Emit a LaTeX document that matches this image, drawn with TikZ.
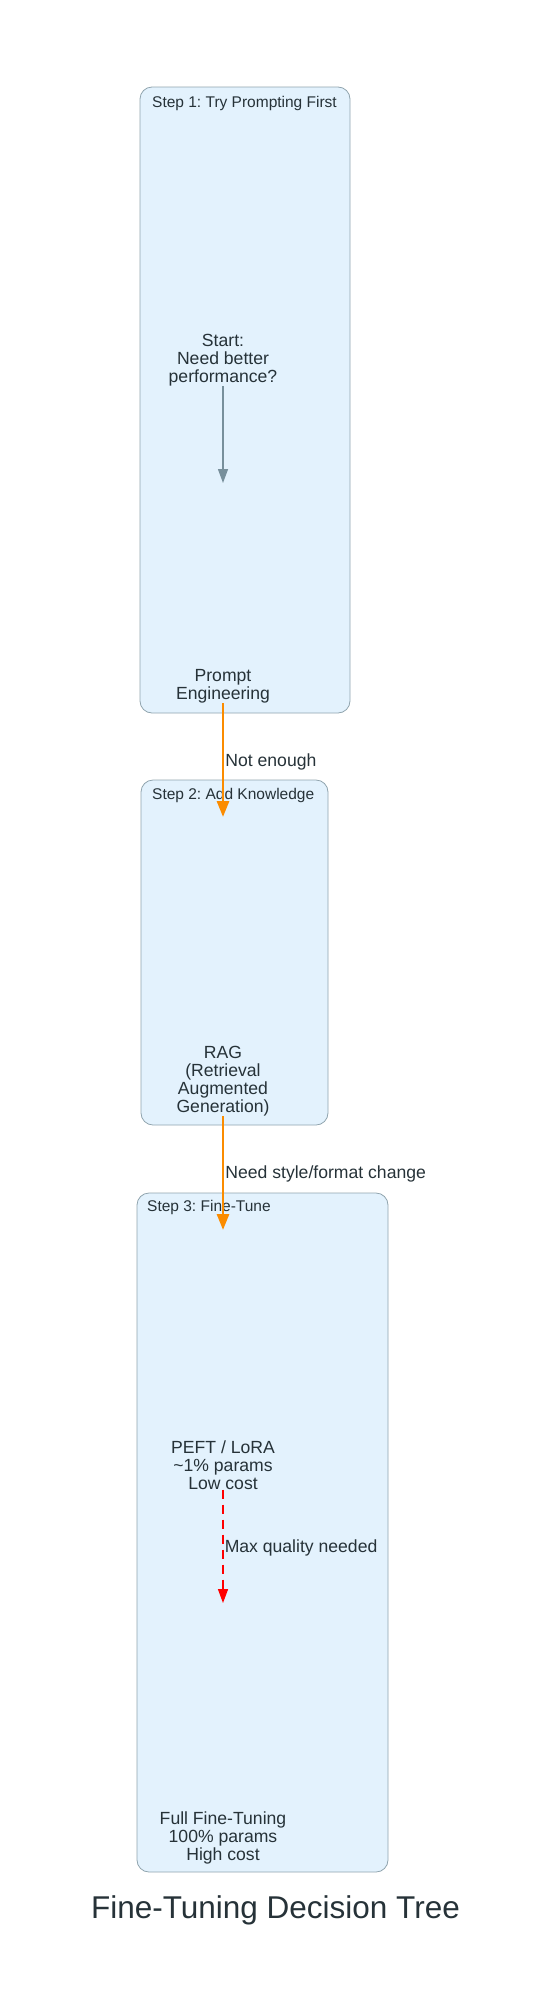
\documentclass[tikz,border=0pt]{standalone}
\usepackage{fontspec}
\setmainfont{Liberation Sans}
\frenchspacing
\usetikzlibrary{arrows.meta}
\definecolor{clfill}{HTML}{E3F2FD}
\definecolor{cldraw}{HTML}{90A4AE}
\definecolor{txt}{HTML}{263238}
\definecolor{grayarrow}{HTML}{78909C}
\definecolor{orangearrow}{HTML}{FB8C00}
\tikzset{
  cluster/.style={draw=cldraw, fill=clfill, line width=0.8pt, rounded corners=12pt},
  cltitle/.style={anchor=west, text=txt, font=\fontsize{15.5}{18}\selectfont, inner sep=0pt},
  body/.style={align=center, text=txt, font=\fontsize{17.6}{18}\selectfont, inner sep=0pt},
  elabel/.style={anchor=west, text=txt, font=\fontsize{17.6}{18}\selectfont, inner sep=1pt},
  grayedge/.style={draw=grayarrow, line width=1.3pt, -{Triangle[length=14pt,width=10pt]}},
  orangeedge/.style={draw=orangearrow, line width=2.8pt, -{Triangle[length=16pt,width=12pt]}},
  rededge/.style={draw=red, line width=1.5pt, dash pattern=on 9pt off 6pt, -{Triangle[length=14pt,width=10pt]}},
}
\begin{document}
\begin{tikzpicture}[x=1pt,y=-1pt]
\useasboundingbox (0,0) rectangle (552,2005);
% clusters
\draw[cluster] (140,87) rectangle (350,713);
\node[cltitle] (t1) at (152,103) {Step 1: Try Prompting First};
\draw[cluster] (141,780) rectangle (328,1125);
\node[cltitle] (t2) at (152,795) {Step 2: Add Knowledge};
\draw[cluster] (137,1193) rectangle (388,1872);
\node[cltitle] (t3) at (147,1207) {Step 3: Fine-Tune};
% nodes
\node[body] (start) at (223,360) {Start:\\Need better\\performance?};
\node[body] (prompt) at (223,686) {Prompt\\Engineering};
\node[body] (rag) at (223,1081) {RAG\\(Retrieval\\Augmented\\Generation)};
\node[body] (peft) at (223,1465) {PEFT / LoRA\\\textasciitilde1\% params\\Low cost};
\node[body] (full) at (223,1838) {Full Fine-Tuning\\100\% params\\High cost};
\coordinate (promptin) at (223,483);
\coordinate (ragin) at (223,817);
\coordinate (peftin) at (223,1230);
\coordinate (fullin) at (223,1603);
% edges
\draw[grayedge] (start.south) -- (promptin);
\draw[orangeedge] (prompt.south) -- node[elabel, pos=0.52] (l1) {Not enough} (ragin);
\draw[orangeedge] (rag.south) -- node[elabel, pos=0.51] (l2) {Need style/format change} (peftin);
\draw[rededge] (peft.south) -- node[elabel, pos=0.51] (l3) {Max quality needed} (fullin);
% title
\node[text=txt, font=\fontsize{31.5}{36}\selectfont, inner sep=0pt] (title) at (275.5,1910) {Fine-Tuning Decision Tree};
\end{tikzpicture}
\end{document}
